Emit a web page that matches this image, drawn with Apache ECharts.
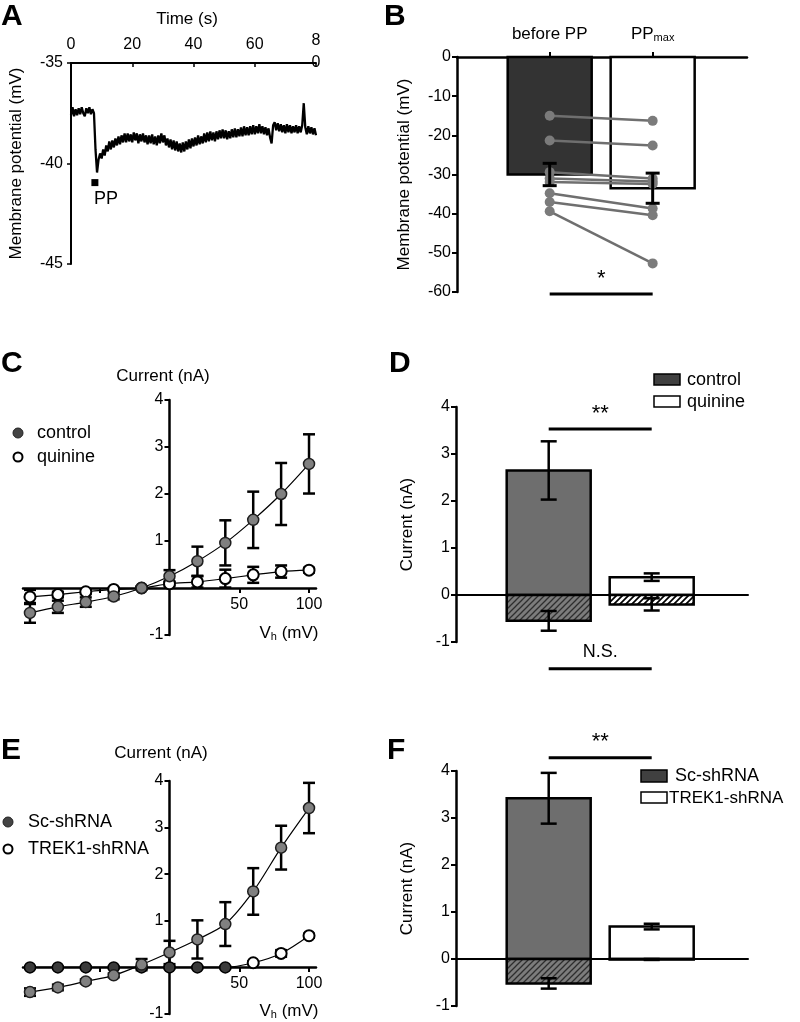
<!DOCTYPE html>
<html><head><meta charset="utf-8">
<script src="https://cdn.jsdelivr.net/npm/echarts@6/dist/echarts.min.js"></script>
<style>html,body{margin:0;padding:0;background:#fff}#c{width:800px;height:1022px}</style>
</head><body><div id="c"></div>
<script>
// ===================== DATA =====================
// Panel A: membrane potential trace (mV), sampled every traceStep seconds from t=0
const traceStep = 0.5;
const traceValues = [
 -37.6,-37.2,-37.65,-37.3,-37.6,-37.25,-37.55,-37.2,-37.5,-37.65,
 -37.25,-37.5,-37.2,-37.55,-37.3,-37.5,-39.3,-40.45,-39.8,-39.5,
 -39.75,-39.3,-39.6,-39.1,-39.4,-38.9,-39.3,-38.85,-39.2,-38.75,
 -39.1,-38.65,-39.05,-38.6,-38.95,-38.5,-38.95,-38.5,-38.9,-38.55,
 -38.95,-38.45,-38.85,-38.5,-39.0,-38.55,-38.9,-38.5,-38.95,-38.6,
 -39.05,-38.6,-39.0,-38.55,-39.05,-38.65,-39.1,-38.6,-39.0,-38.5,
 -38.95,-38.6,-39.1,-38.75,-39.2,-38.8,-39.3,-38.85,-39.35,-38.9,
 -39.4,-39.0,-39.45,-38.95,-39.4,-38.9,-39.3,-38.8,-39.25,-38.75,
 -39.15,-38.7,-39.1,-38.6,-39.05,-38.65,-39.0,-38.5,-38.95,-38.45,
 -38.9,-38.4,-38.85,-38.45,-38.9,-38.4,-38.8,-38.35,-38.75,-38.3,
 -38.75,-38.35,-38.8,-38.4,-38.75,-38.3,-38.7,-38.25,-38.7,-38.3,
 -38.65,-38.2,-38.65,-38.15,-38.6,-38.2,-38.6,-38.15,-38.55,-38.1,
 -38.55,-38.15,-38.5,-38.05,-38.5,-38.15,-38.55,-38.2,-38.6,-38.25,
 -38.7,-39.0,-38.1,-37.95,-38.35,-38.0,-38.4,-38.05,-38.45,-38.1,
 -38.5,-38.05,-38.45,-38.1,-38.5,-38.15,-38.45,-38.1,-38.5,-38.15,
 -38.45,-38.1,-37.0,-38.2,-38.55,-38.15,-38.5,-38.2,-38.55,-38.25,
 -38.6
];
const ppMark = [7.8, -40.95];

// Panel B
const bCategoryPos = [0.9, 1.9];
const bCategories = ['before PP', 'PP_max'];
const bMeans = [-30.0, -33.5];
const bSem = [2.85, 3.85];
const bBefore = [-15.0, -21.3, -29.4, -31.0, -31.9, -34.8, -37.0, -39.4];
const bAfter  = [-16.3, -22.6, -31.0, -31.8, -32.4, -38.7, -40.4, -52.7];

// Panel C / E voltage steps
const vh = [-100, -80, -60, -40, -20, 0, 20, 40, 60, 80, 100];
// Panel C
const cControl    = [-0.53, -0.40, -0.30, -0.18, 0.00, 0.25, 0.57, 0.96, 1.45, 2.00, 2.64];
const cControlErr = [0.21, 0.13, 0.10, 0.06, 0.03, 0.13, 0.31, 0.48, 0.60, 0.66, 0.63];
const cQuinine    = [-0.19, -0.14, -0.08, -0.03, 0.00, 0.09, 0.13, 0.20, 0.28, 0.35, 0.38];
const cQuinineErr = [0.15, 0.06, 0.05, 0.03, 0.02, 0.05, 0.12, 0.19, 0.17, 0.13, 0.05];

// Panel D (outward / inward currents)
const dPos = [2.65, 0.38];   const dPosErr = [0.62, 0.08];
const dNeg = [-0.55, -0.20]; const dNegErr = [0.21, 0.13];

// Panel E
const eSc      = [-0.53, -0.43, -0.30, -0.17, 0.06, 0.32, 0.60, 0.93, 1.63, 2.57, 3.42];
const eScErr   = [0.08, 0.06, 0.04, 0.04, 0.12, 0.25, 0.41, 0.47, 0.50, 0.47, 0.54];
const eTrek    = [0, 0, 0, 0, 0, 0, 0, 0, 0.10, 0.30, 0.68];
const eTrekErr = [0.02, 0.02, 0.02, 0.02, 0.02, 0.02, 0.02, 0.02, 0.03, 0.07, 0.04];

// Panel F
const fPos = [3.42, 0.69];  const fPosErr = [0.54, 0.06];
const fNeg = [-0.52, -0.01]; const fNegErr = [0.11, 0.01];

// significance annotations: [x1, x2, lineY, textY]
const bSig = [[0.9, 1.9, -60.5, -56.6]]; const bSigText = ['*'];
const dSig = [[0.9, 1.9, 3.53, 3.85], [0.9, 1.9, -1.57, -1.22]]; const dSigText = ['**', 'N.S.'];
const fSig = [[0.9, 1.9, 4.28, 4.62]]; const fSigText = ['**'];

// ===================== RENDER =====================
const FONT = '"Liberation Sans", Arial, Helvetica, sans-serif';
const chart = echarts.init(document.getElementById('c'), null, {renderer: 'canvas', width: 800, height: 1022});

function hatch(bg, fg, w) {
  const c = document.createElement('canvas'); c.width = 6; c.height = 6;
  const g = c.getContext('2d'); g.fillStyle = bg; g.fillRect(0, 0, 6, 6);
  g.strokeStyle = fg; g.lineWidth = w; g.beginPath();
  g.moveTo(-1, 7); g.lineTo(7, -1); g.moveTo(-1, 1); g.lineTo(1, -1); g.moveTo(5, 7); g.lineTo(7, 5);
  g.stroke(); return c;
}
const FILLS = ['#ffffff', '#6e6e6e', {image: hatch('#7c7c7c', '#2e2e2e', 1.3), repeat: 'repeat'},
               {image: hatch('#ffffff', '#000000', 1.7), repeat: 'repeat'}, '#333333'];
const BAR_HALF = 42;

function renderBar(params, api) {
  const x = api.value(0), a = api.value(1), b = api.value(2), k = api.value(3);
  const p = api.coord([x, a]), q = api.coord([x, b]);
  return {type: 'rect', shape: {x: p[0] - BAR_HALF, y: Math.min(p[1], q[1]), width: 2 * BAR_HALF, height: Math.abs(q[1] - p[1])},
          style: {fill: FILLS[k], stroke: '#000', lineWidth: 2.5}};
}
function renderErr(capHalf, width) {
  return function (params, api) {
    const x = api.value(0), lo = api.value(1), hi = api.value(2);
    const a = api.coord([x, lo]), b = api.coord([x, hi]);
    const st = {stroke: '#000', lineWidth: width};
    return {type: 'group', children: [
      {type: 'line', shape: {x1: a[0], y1: a[1], x2: b[0], y2: b[1]}, style: st},
      {type: 'line', shape: {x1: a[0] - capHalf, y1: a[1], x2: a[0] + capHalf, y2: a[1]}, style: st},
      {type: 'line', shape: {x1: b[0] - capHalf, y1: b[1], x2: b[0] + capHalf, y2: b[1]}, style: st}]};
  };
}
function renderSig(texts) {
  return function (params, api) {
    const x1 = api.value(0), x2 = api.value(1), yl = api.value(2), yt = api.value(3);
    const a = api.coord([x1, yl]), b = api.coord([x2, yl]), t = api.coord([(x1 + x2) / 2, yt]);
    const txt = texts[params.dataIndex];
    const fs = txt.indexOf('*') >= 0 ? 22 : 18;
    return {type: 'group', children: [
      {type: 'line', shape: {x1: a[0], y1: a[1], x2: b[0], y2: b[1]}, style: {stroke: '#000', lineWidth: 3}},
      {type: 'text', x: t[0], y: t[1], style: {text: txt, font: fs + 'px ' + FONT, fill: '#000',
        align: 'center', verticalAlign: 'middle', textAlign: 'center', textVerticalAlign: 'middle'}}]};
  };
}
function errData(xs, ys, es) { return ys.map((y, i) => [xs[i], y - es[i], y + es[i]]); }
function barData(pos, neg, posKinds, negKinds) {
  const out = [];
  pos.forEach((v, i) => out.push([bCategoryPos[i], 0, v, posKinds[i]]));
  neg.forEach((v, i) => out.push([bCategoryPos[i], v, 0, negKinds[i]]));
  return out;
}

const tickLbl = {color: '#000', fontSize: 16, fontFamily: FONT};
const blackLine = w => ({lineStyle: {color: '#000', width: w}});
const nameStyle = {color: '#000', fontSize: 17, fontFamily: FONT};

const grids = [
  {left: 71, top: 63, width: 245, height: 201},
  {left: 457, top: 57, width: 290, height: 235},
  {left: 23, top: 400, width: 293, height: 235},
  {left: 456, top: 407, width: 292, height: 235},
  {left: 23, top: 781, width: 293, height: 235},
  {left: 456, top: 771, width: 292, height: 235}
];

// I-V panels: axes cross at the origin (offset inward from grid edges)
function ivX(gi) {
  return {gridIndex: gi, type: 'value', min: -105, max: 105, position: 'bottom', offset: -47,
    axisLine: Object.assign({onZero: false}, blackLine(2.5)),
    axisTick: {customValues: [-100, -50, 50, 100], length: 5, lineStyle: {color: '#000', width: 2}},
    axisLabel: Object.assign({customValues: [50, 100], margin: 9}, tickLbl),
    splitLine: {show: false}};
}
function ivY(gi) {
  return {gridIndex: gi, type: 'value', min: -1, max: 4, interval: 1, position: 'left', offset: -146.5,
    axisLine: Object.assign({onZero: false}, blackLine(2.5)),
    axisTick: {length: 5, lineStyle: {color: '#000', width: 2}},
    axisLabel: Object.assign({margin: 6, formatter: v => (v === 0 ? '' : String(v))}, tickLbl),
    splitLine: {show: false}};
}
function barX(gi) {
  return {gridIndex: gi, type: 'value', min: 0, max: 2.835,
    axisLine: Object.assign({onZero: true}, blackLine(2)),
    axisTick: {show: false}, axisLabel: {show: false}, splitLine: {show: false}};
}
function barY(gi, name) {
  return {gridIndex: gi, type: 'value', min: -1, max: 4, interval: 1,
    name: name, nameLocation: 'middle', nameGap: 40, nameRotate: 90, nameTextStyle: nameStyle,
    axisLine: Object.assign({onZero: false}, blackLine(2.5)),
    axisTick: {length: 5, lineStyle: {color: '#000', width: 2}},
    axisLabel: Object.assign({margin: 6}, tickLbl),
    splitLine: {show: false}};
}

const xAxes = [
  {gridIndex: 0, type: 'value', min: 0, max: 80, interval: 20, position: 'top',
   axisLine: Object.assign({onZero: false}, blackLine(2)),
   axisTick: {inside: true, length: 4, lineStyle: {color: '#000', width: 1.5}},
   axisLabel: {margin: -11, color: '#000', fontFamily: FONT, fontSize: 16,
     formatter: v => (v === 80 ? '{q|8}\n{q|0}' : '{p|' + v + '}'),
     rich: {p: {fontSize: 16, fontFamily: FONT, color: '#000', padding: [0, 0, 21, 0]},
            q: {fontSize: 16, fontFamily: FONT, color: '#000', lineHeight: 22}}},
   splitLine: {show: false}, z: 1},
  {gridIndex: 1, type: 'value', min: 0, max: 2.816, position: 'top',
   axisLine: Object.assign({onZero: false}, blackLine(2.5)),
   axisTick: {customValues: bCategoryPos, length: 5, lineStyle: {color: '#000', width: 2}},
   axisLabel: Object.assign({customValues: bCategoryPos, margin: 13,
     formatter: v => {
       const i = bCategoryPos.findIndex(p => Math.abs(p - v) < 1e-6);
       const s = i >= 0 ? bCategories[i] : '';
       const parts = s.split('_');
       return parts.length > 1 ? '{m|' + parts[0] + '}{s|' + parts[1] + '}' : '{m|' + s + '}';
     },
     rich: {m: {fontSize: 17, fontFamily: FONT, color: '#000', lineHeight: 20},
            s: {fontSize: 11, fontFamily: FONT, color: '#000', lineHeight: 20, padding: [8, 0, 0, 0]}}}, tickLbl),
   splitLine: {show: false}},
  ivX(2), barX(3), ivX(4), barX(5)
];
const yAxes = [
  {gridIndex: 0, type: 'value', min: -45, max: -35, interval: 5,
   name: 'Membrane potential (mV)', nameLocation: 'middle', nameGap: 46, nameRotate: 90, nameTextStyle: nameStyle,
   axisLine: Object.assign({onZero: false}, blackLine(2)),
   axisTick: {length: 4, lineStyle: {color: '#000', width: 1.5}},
   axisLabel: Object.assign({margin: 8}, tickLbl), splitLine: {show: false}},
  {gridIndex: 1, type: 'value', min: -60, max: 0, interval: 10,
   name: 'Membrane potential (mV)', nameLocation: 'middle', nameGap: 44, nameRotate: 90, nameTextStyle: nameStyle,
   axisLine: Object.assign({onZero: false}, blackLine(2.5)),
   axisTick: {length: 5, lineStyle: {color: '#000', width: 2}},
   axisLabel: Object.assign({margin: 6}, tickLbl), splitLine: {show: false}},
  ivY(2), barY(3, 'Current (nA)'), ivY(4), barY(5, 'Current (nA)')
];

const series = [];
// ---- A
series.push({type: 'line', xAxisIndex: 0, yAxisIndex: 0, showSymbol: false, symbol: 'none',
  data: traceValues.map((v, i) => [i * traceStep, v]),
  lineStyle: {color: '#000', width: 2.3}, clip: false, z: 3});
series.push({type: 'scatter', xAxisIndex: 0, yAxisIndex: 0, data: [ppMark], symbol: 'rect', symbolSize: 7,
  itemStyle: {color: '#000', opacity: 1},
  label: {show: true, formatter: 'PP', position: 'bottom', distance: 4, offset: [11, 0], color: '#000', opacity: 1, fontSize: 18, fontFamily: FONT}});
// ---- B
series.push({type: 'custom', xAxisIndex: 1, yAxisIndex: 1, renderItem: renderBar, clip: false,
  data: bMeans.map((v, i) => [bCategoryPos[i], 0, v, i === 0 ? 4 : 0])});
bBefore.forEach((v, i) => {
  series.push({type: 'line', xAxisIndex: 1, yAxisIndex: 1, data: [[bCategoryPos[0], v], [bCategoryPos[1], bAfter[i]]],
    symbol: 'circle', symbolSize: 10, itemStyle: {color: '#7b7b7b', borderWidth: 0},
    lineStyle: {color: '#6f6f6f', width: 2.5}});
});
series.push({type: 'custom', xAxisIndex: 1, yAxisIndex: 1, renderItem: renderErr(7, 3), clip: false,
  data: errData(bCategoryPos, bMeans, bSem), z: 5});
series.push({type: 'custom', xAxisIndex: 1, yAxisIndex: 1, renderItem: renderSig(bSigText), clip: false, data: bSig});
// ---- C
const markerGray = {color: '#808080', borderColor: '#1e1e1e', borderWidth: 1.5};
const markerWhite = {color: '#ffffff', borderColor: '#000', borderWidth: 2};
series.push({type: 'custom', xAxisIndex: 2, yAxisIndex: 2, renderItem: renderErr(6, 2.5), clip: false, data: errData(vh, cControl, cControlErr)});
series.push({type: 'custom', xAxisIndex: 2, yAxisIndex: 2, renderItem: renderErr(6, 2.5), clip: false, data: errData(vh, cQuinine, cQuinineErr)});
series.push({type: 'line', xAxisIndex: 2, yAxisIndex: 2, data: vh.map((x, i) => [x, cQuinine[i]]), smooth: 0.3,
  symbol: 'circle', symbolSize: 11, itemStyle: markerWhite, lineStyle: {color: '#000', width: 1.2}, z: 4});
series.push({type: 'line', xAxisIndex: 2, yAxisIndex: 2, data: vh.map((x, i) => [x, cControl[i]]), smooth: 0.3,
  symbol: 'circle', symbolSize: 11, itemStyle: markerGray, lineStyle: {color: '#000', width: 1.2}, z: 4});
// ---- D
series.push({type: 'custom', xAxisIndex: 3, yAxisIndex: 3, renderItem: renderBar, clip: false, data: barData(dPos, dNeg, [1, 0], [2, 3])});
series.push({type: 'custom', xAxisIndex: 3, yAxisIndex: 3, renderItem: renderErr(8, 2.5), clip: false,
  data: errData(bCategoryPos, dPos, dPosErr).concat(errData(bCategoryPos, dNeg, dNegErr)), z: 5});
series.push({type: 'custom', xAxisIndex: 3, yAxisIndex: 3, renderItem: renderSig(dSigText), clip: false, data: dSig});
// ---- E
series.push({type: 'custom', xAxisIndex: 4, yAxisIndex: 4, renderItem: renderErr(6, 2.5), clip: false, data: errData(vh, eSc, eScErr)});
series.push({type: 'custom', xAxisIndex: 4, yAxisIndex: 4, renderItem: renderErr(6, 2.5), clip: false, data: errData(vh, eTrek, eTrekErr)});
series.push({type: 'line', xAxisIndex: 4, yAxisIndex: 4, smooth: 0.3, symbol: 'circle', symbolSize: 11,
  data: vh.map((x, i) => eTrek[i] === 0 ? {value: [x, eTrek[i]], itemStyle: {color: '#3a3a3a', borderColor: '#000', borderWidth: 1.5}} : [x, eTrek[i]]),
  itemStyle: markerWhite, lineStyle: {color: '#000', width: 1.2}, z: 4});
series.push({type: 'line', xAxisIndex: 4, yAxisIndex: 4, data: vh.map((x, i) => [x, eSc[i]]), smooth: 0.3,
  symbol: 'circle', symbolSize: 11, itemStyle: markerGray, lineStyle: {color: '#000', width: 1.2}, z: 4});
// ---- F
series.push({type: 'custom', xAxisIndex: 5, yAxisIndex: 5, renderItem: renderBar, clip: false, data: barData(fPos, fNeg, [1, 0], [2, 3])});
series.push({type: 'custom', xAxisIndex: 5, yAxisIndex: 5, renderItem: renderErr(8, 2.5), clip: false,
  data: errData(bCategoryPos, fPos, fPosErr).concat(errData(bCategoryPos, fNeg, fNegErr)), z: 5});
series.push({type: 'custom', xAxisIndex: 5, yAxisIndex: 5, renderItem: renderSig(fSigText), clip: false, data: fSig});

// ---- texts / legends
function txt(x, y, text, size, opts) {
  return Object.assign({type: 'text', x: x, y: y, z: 10, style: Object.assign({text: text, font: size + 'px ' + FONT, fill: '#000',
    align: 'left', verticalAlign: 'middle', textAlign: 'left', textVerticalAlign: 'middle'}, opts || {})});
}
function letter(x, y, t) { return txt(x, y, t, 30, {font: 'bold 30px ' + FONT, verticalAlign: 'top', textVerticalAlign: 'top'}); }
const vhRich = {v: {fontSize: 17, fontFamily: FONT, color: '#000'}, s: {fontSize: 11, fontFamily: FONT, color: '#000', padding: [8, 0, 0, 0]}};
const graphic = [
  letter(1, 2, 'A'), letter(384, 2, 'B'), letter(1, 349, 'C'), letter(389, 349, 'D'), letter(1, 736, 'E'), letter(387, 736, 'F'),
  txt(187, 19, 'Time (s)', 17, {align: 'center', textAlign: 'center'}),
  txt(163, 376, 'Current (nA)', 17, {align: 'center', textAlign: 'center'}),
  txt(161, 753, 'Current (nA)', 17, {align: 'center', textAlign: 'center'}),
  txt(289, 633, '{v|V}{s|h}{v| (mV)}', 17, {align: 'center', textAlign: 'center', rich: vhRich}),
  txt(289, 1011, '{v|V}{s|h}{v| (mV)}', 17, {align: 'center', textAlign: 'center', rich: vhRich}),
  // legend C
  {type: 'circle', shape: {cx: 18, cy: 433, r: 5}, style: {fill: '#444', stroke: '#222', lineWidth: 1}},
  txt(37, 433, 'control', 18),
  {type: 'circle', shape: {cx: 18, cy: 457, r: 4.5}, style: {fill: '#fff', stroke: '#000', lineWidth: 2}},
  txt(37, 457, 'quinine', 18),
  // legend E
  {type: 'circle', shape: {cx: 8, cy: 822, r: 5}, style: {fill: '#444', stroke: '#222', lineWidth: 1}},
  txt(28, 822, 'Sc-shRNA', 18),
  {type: 'circle', shape: {cx: 8, cy: 849, r: 4.5}, style: {fill: '#fff', stroke: '#000', lineWidth: 2}},
  txt(28, 849, 'TREK1-shRNA', 18),
  // legend D
  {type: 'rect', shape: {x: 654, y: 374, width: 26, height: 11}, style: {fill: '#404040', stroke: '#000', lineWidth: 1.5}},
  txt(687, 380, 'control', 18),
  {type: 'rect', shape: {x: 654, y: 396, width: 26, height: 11}, style: {fill: '#fff', stroke: '#000', lineWidth: 1.5}},
  txt(687, 402, 'quinine', 18),
  // legend F
  {type: 'rect', shape: {x: 641, y: 770, width: 26, height: 12}, style: {fill: '#404040', stroke: '#000', lineWidth: 1.5}},
  txt(675, 776, 'Sc-shRNA', 18),
  {type: 'rect', shape: {x: 641, y: 792, width: 26, height: 11}, style: {fill: '#fff', stroke: '#000', lineWidth: 1.5}},
  txt(669, 798, 'TREK1-shRNA', 17)
];

chart.setOption({
  animation: false,
  backgroundColor: '#fff',
  textStyle: {fontFamily: FONT},
  grid: grids,
  xAxis: xAxes,
  yAxis: yAxes,
  series: series,
  graphic: graphic
});
</script></body></html>
